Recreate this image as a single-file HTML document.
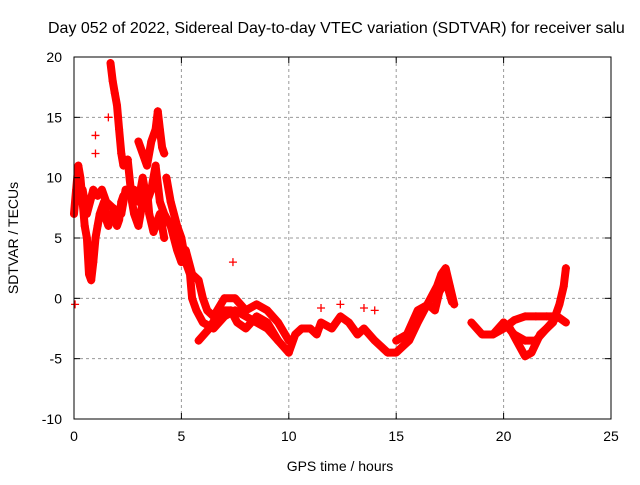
<!DOCTYPE html>
<html><head><meta charset="utf-8"><style>
body{margin:0;background:#fff;}
svg text{font-family:"Liberation Sans",sans-serif;font-size:14px;fill:#000;}
</style></head><body>
<svg id="chart" width="640" height="480" viewBox="0 0 640 480" xmlns="http://www.w3.org/2000/svg">
<rect width="640" height="480" fill="#fff"/>
<text x="48" y="33" style="font-size:16px">Day 052 of 2022, Sidereal Day-to-day VTEC variation (SDTVAR) for receiver salu</text>
<g id="grid"></g>
<g id="series"></g>
<rect x="74" y="57" width="537" height="362" fill="none" stroke="#000" stroke-width="1"/>
<g id="axes"></g>
<text x="340" y="471" text-anchor="middle">GPS time / hours</text>
<text transform="translate(18,238) rotate(-90)" text-anchor="middle">SDTVAR / TECUs</text>
</svg>
<script>
const xTicks=[0,5,10,15,20,25];
const yTicks=[-10,-5,0,5,10,15,20];
const trackA=[[0,7],[0.1,9],[0.2,11],[0.3,10],[0.4,8],[0.5,6],[0.6,5],[0.7,2],[0.8,1.5],[0.9,3],[1.0,5],[1.1,6],[1.2,7],[1.3,7.5],[1.4,8],[1.5,6.5],[1.6,6],[1.7,7],[1.8,7],[1.9,6.5],[2.0,6],[2.1,6.5],[2.2,8],[2.3,8.5]];
const trackB=[[1.7,19.5],[1.8,18],[1.9,17],[2.0,16],[2.1,14],[2.2,12],[2.3,11],[2.5,11.5]];
const trackC=[[2.5,11.5],[2.7,8],[2.8,7],[3.0,6],[3.2,8],[3.4,9],[3.5,7],[3.7,5.5],[3.8,6],[4.0,7],[4.2,5]];
const trackD=[[3.0,13],[3.2,12],[3.4,11],[3.6,13],[3.8,14],[3.9,15.5],[4.0,14],[4.1,12.5],[4.2,12]];
const trackE=[[4.3,10],[4.5,8],[4.8,6],[5.0,5],[5.2,3],[5.4,2],[5.5,0],[5.7,-1],[6.0,-2],[6.5,-2.5],[7.0,-1.5],[7.5,-1],[8.0,-1.5],[8.5,-2],[9.0,-2.5],[9.5,-3.5]];
const trackF=[[5.2,4],[5.5,2],[5.8,1.5],[6.0,0],[6.2,-1],[6.5,-1.5],[7.0,0],[7.5,0],[8.0,-1],[8.5,-0.5],[9.0,-1],[9.5,-2],[10.0,-3.5]];
const trackG=[[5.8,-3.5],[6.3,-2.5],[6.8,-1],[7.3,-1],[7.6,-2],[8.0,-2.5],[8.5,-1.5],[9.0,-2],[9.5,-3.5],[10.0,-4.5]];
const trackH=[[10.0,-4.5],[10.3,-3],[10.6,-2.5],[11.0,-2.5],[11.3,-3],[11.5,-2],[12.0,-2.5],[12.4,-1.5],[12.8,-2],[13.2,-3],[13.5,-2.5],[14.0,-3.5],[14.3,-4],[14.6,-4.5],[15.0,-4.5],[15.3,-4],[15.6,-3.5],[16.0,-2],[16.3,-1],[16.6,0],[16.9,1],[17.1,2],[17.3,2.5],[17.5,1],[17.7,-0.5]];
const trackI=[[15.0,-3.5],[15.5,-3],[16.0,-1],[16.5,-0.5],[16.8,-1],[17.0,0.5],[17.3,1.5],[17.6,-0.3]];
const trackJ=[[18.5,-2],[19.0,-3],[19.5,-3],[20.0,-2],[20.3,-2.5],[20.6,-3.5],[21.0,-4.8],[21.3,-4.5],[21.7,-3],[22.0,-2.5],[22.3,-2],[22.6,-0.5],[22.8,1],[22.9,2.5]];
const trackK=[[19.5,-3],[20.0,-2.5],[20.5,-1.8],[21.0,-1.5],[21.5,-1.5],[22.0,-1.5],[22.5,-1.5],[22.9,-2]];
const trackL=[[20.0,-2],[20.5,-3],[21.0,-3.5],[21.5,-3.5],[22.0,-2.5],[22.5,-1.5]];
const trackM=[[2.8,9],[3.0,8],[3.2,10],[3.4,8],[3.6,9],[3.8,11],[4.0,8],[4.2,7],[4.5,6],[4.8,4],[5.0,3]];
const trackN=[[0.4,9],[0.6,7],[0.9,9],[1.1,8.5],[1.3,9],[1.5,8],[1.8,7.5],[2.2,7],[2.4,9]];
const isolated=[[0.05,-0.5],[1.0,13.5],[1.0,12],[1.6,15],[7.4,3],[11.5,-0.8],[12.4,-0.5],[13.5,-0.8],[14.0,-1]];
const tracks=[trackA,trackB,trackC,trackD,trackE,trackF,trackG,trackH,trackI,trackJ,trackK,trackL,trackM,trackN];

const NS="http://www.w3.org/2000/svg";
const X0=74,X1=611,Y0=419,Y1=57;
function xs(v){return X0+(v-0)/25*(X1-X0);}
function ys(v){return Y0-(v+10)/30*(Y0-Y1);}
const grid=document.getElementById('grid'),axes=document.getElementById('axes'),ser=document.getElementById('series');
function mk(t,a,p){const e=document.createElementNS(NS,t);for(const k in a)e.setAttribute(k,a[k]);p.appendChild(e);return e;}
xTicks.forEach(v=>{
  const x=xs(v);
  if(v>0&&v<25){const g=mk('line',{x1:x,x2:x,y1:Y1,y2:Y0,stroke:'#999','stroke-dasharray':'3,3'},grid);
  
  }
  mk('line',{x1:x,x2:x,y1:Y0,y2:Y0-6,stroke:'#000'},axes);
  mk('line',{x1:x,x2:x,y1:Y1,y2:Y1+6,stroke:'#000'},axes);
  const t=mk('text',{x:x,y:Y0+22,'text-anchor':'middle'},axes);t.textContent=v;
  
  
});
yTicks.forEach(v=>{
  const y=ys(v);
  if(v>-10&&v<20){const g=mk('line',{x1:X0,x2:X1,y1:y,y2:y,stroke:'#999','stroke-dasharray':'3,3'},grid);
  
  }
  mk('line',{x1:X0,x2:X0+6,y1:y,y2:y,stroke:'#000'},axes);
  mk('line',{x1:X1,x2:X1-6,y1:y,y2:y,stroke:'#000'},axes);
  const t=mk('text',{x:X0-12,y:y+5,'text-anchor':'end'},axes);t.textContent=v;
  
  
});
function plus(p){
  const x=xs(p[0]),y=ys(p[1]);
  const m=mk('path',{d:`M${x-4},${y}h8M${x},${y-4}v8`,stroke:'#f00','stroke-width':1.3},ser);
  
  
}
tracks.forEach(tr=>{
  const d=tr.map((p,i)=>(i?'L':'M')+xs(p[0]).toFixed(1)+','+ys(p[1]).toFixed(1)).join('');
  const l=mk('path',{d:d,fill:'none',stroke:'#f00','stroke-width':8,'stroke-linejoin':'round','stroke-linecap':'round'},ser);
  
  
  tr.forEach(plus);
});
isolated.forEach(plus);
</script>
</body></html>
